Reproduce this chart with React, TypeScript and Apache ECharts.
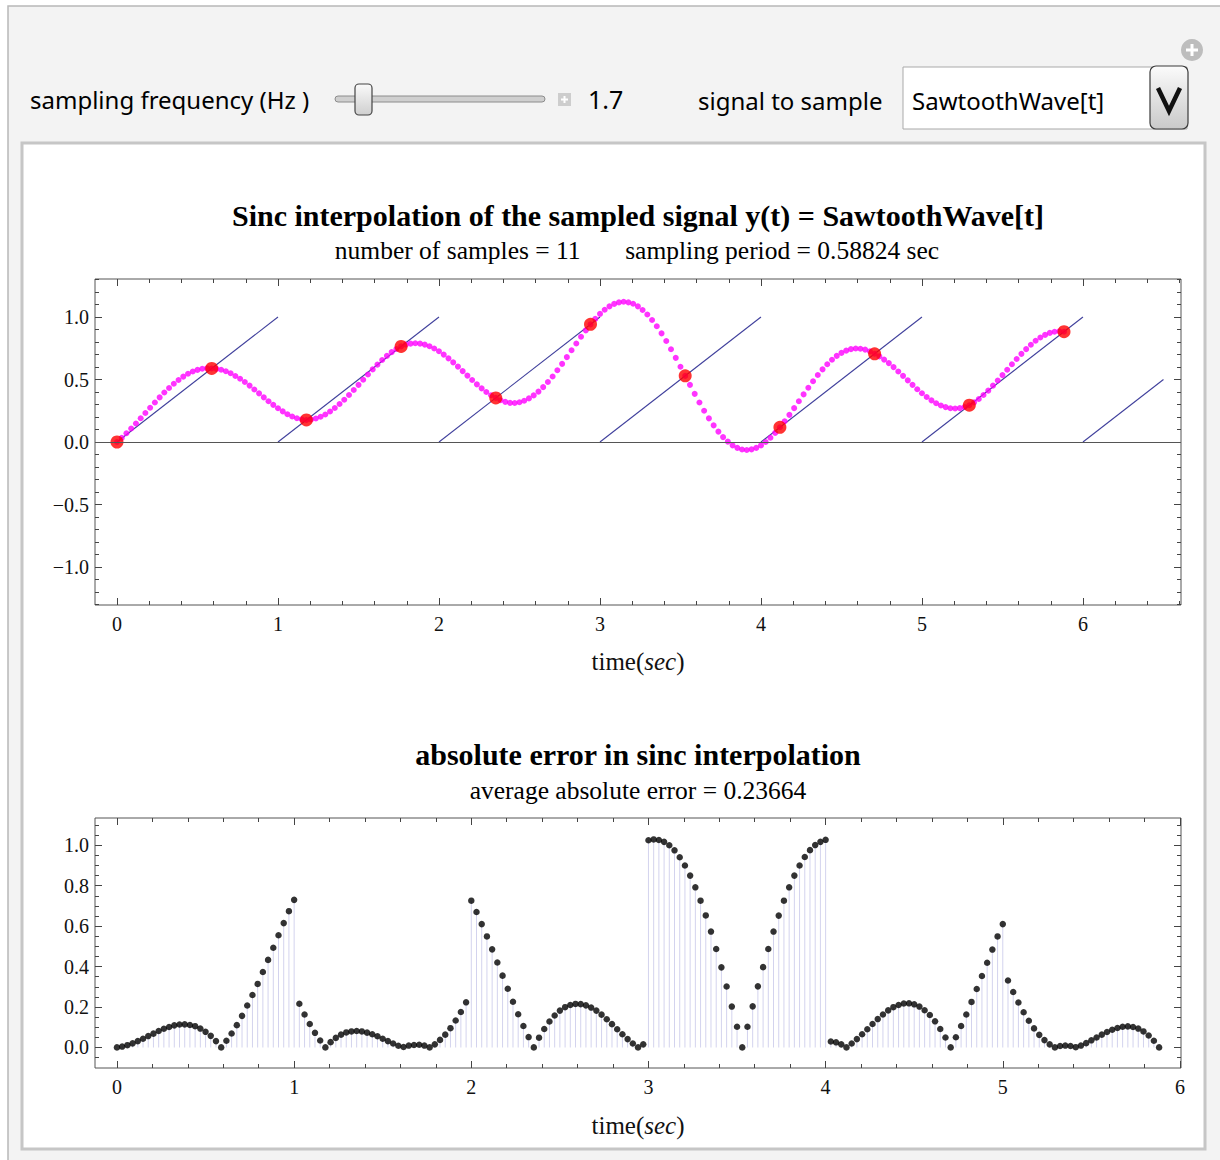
import React, { useEffect, useRef } from 'react';
import * as echarts from 'echarts';

// ---------------- data ----------------
const SAMPLE_PERIOD = 0.58824;
const DOTS_PER_PERIOD = 20;

const sampleTimes = [0, 0.58824, 1.17647, 1.76471, 2.35294, 2.94118, 3.52941, 4.11765, 4.70588, 5.29412, 5.88235];
const sampleValues = [0, 0.58824, 0.17647, 0.76471, 0.35294, 0.94118, 0.52941, 0.11765, 0.70588, 0.29412, 0.88235];

// sinc-interpolated signal, one value every SAMPLE_PERIOD / 20 seconds
const interpValues = [
  0, 0.033, 0.070, 0.108, 0.148, 0.190, 0.232, 0.274, 0.316, 0.357, 0.396, 0.432, 0.466, 0.496, 0.523, 0.546, 0.564, 0.577, 0.586, 0.590, 0.588,
  0.585, 0.578, 0.566, 0.550, 0.528, 0.506, 0.480, 0.451, 0.420, 0.389, 0.357, 0.326, 0.297, 0.270, 0.245, 0.222, 0.204, 0.190, 0.181, 0.176,
  0.180, 0.188, 0.202, 0.220, 0.244, 0.272, 0.304, 0.338, 0.376, 0.416, 0.457, 0.498, 0.540, 0.581, 0.619, 0.656, 0.689, 0.719, 0.744, 0.765,
  0.779, 0.787, 0.790, 0.787, 0.779, 0.766, 0.748, 0.726, 0.699, 0.669, 0.637, 0.603, 0.567, 0.531, 0.496, 0.461, 0.429, 0.400, 0.374, 0.353,
  0.334, 0.321, 0.313, 0.312, 0.318, 0.330, 0.349, 0.373, 0.403, 0.439, 0.480, 0.524, 0.574, 0.625, 0.679, 0.734, 0.788, 0.842, 0.893, 0.941,
  0.985, 1.025, 1.058, 1.085, 1.105, 1.117, 1.122, 1.117, 1.106, 1.085, 1.056, 1.020, 0.976, 0.926, 0.869, 0.808, 0.742, 0.673, 0.602, 0.529,
  0.457, 0.385, 0.316, 0.250, 0.189, 0.133, 0.083, 0.039, 0.003, -0.027, -0.047, -0.060, -0.064, -0.059, -0.047, -0.027, 0.000, 0.034, 0.073, 0.118,
  0.166, 0.217, 0.271, 0.326, 0.381, 0.434, 0.486, 0.536, 0.581, 0.622, 0.658, 0.689, 0.713, 0.731, 0.743, 0.748, 0.746, 0.739, 0.725, 0.706,
  0.685, 0.659, 0.631, 0.599, 0.564, 0.529, 0.493, 0.457, 0.422, 0.390, 0.360, 0.333, 0.310, 0.292, 0.279, 0.270, 0.268, 0.271, 0.280, 0.294,
  0.317, 0.344, 0.376, 0.411, 0.451, 0.492, 0.535, 0.578, 0.622, 0.664, 0.705, 0.743, 0.778, 0.810, 0.836, 0.857, 0.873, 0.882, 0.886, 0.882,
];

// absolute error of the interpolation at the same instants
const absErrors = [
  0, 0.004, 0.011, 0.020, 0.031, 0.043, 0.056, 0.068, 0.081, 0.092, 0.101, 0.109, 0.113, 0.114, 0.111, 0.105, 0.093, 0.077, 0.057, 0.031, 0,
  0.033, 0.069, 0.110, 0.156, 0.207, 0.259, 0.314, 0.373, 0.433, 0.493, 0.555, 0.615, 0.674, 0.730, 0.216, 0.163, 0.116, 0.072, 0.034, 0,
  0.026, 0.047, 0.063, 0.074, 0.079, 0.081, 0.079, 0.073, 0.065, 0.055, 0.043, 0.031, 0.019, 0.008, 0.002, 0.009, 0.012, 0.013, 0.009, 0,
  0.015, 0.037, 0.063, 0.095, 0.133, 0.175, 0.223, 0.726, 0.670, 0.610, 0.549, 0.485, 0.420, 0.355, 0.290, 0.226, 0.164, 0.106, 0.051, 0,
  0.048, 0.091, 0.128, 0.158, 0.182, 0.199, 0.210, 0.215, 0.214, 0.208, 0.197, 0.182, 0.162, 0.139, 0.115, 0.090, 0.065, 0.041, 0.019, 0,
  0.015, 1.025, 1.029, 1.026, 1.017, 1.000, 0.975, 0.941, 0.900, 0.850, 0.792, 0.726, 0.653, 0.573, 0.487, 0.396, 0.301, 0.202, 0.102, 0,
  0.102, 0.203, 0.302, 0.397, 0.487, 0.573, 0.652, 0.726, 0.792, 0.850, 0.900, 0.942, 0.976, 1.001, 1.017, 1.027, 0.029, 0.025, 0.015, 0,
  0.019, 0.041, 0.065, 0.090, 0.116, 0.140, 0.163, 0.183, 0.199, 0.210, 0.217, 0.218, 0.213, 0.202, 0.184, 0.160, 0.129, 0.091, 0.049, 0,
  0.050, 0.106, 0.163, 0.225, 0.289, 0.353, 0.419, 0.484, 0.549, 0.610, 0.331, 0.274, 0.222, 0.174, 0.132, 0.094, 0.062, 0.036, 0.015, 0,
  0.007, 0.009, 0.007, 0.001, 0.009, 0.021, 0.035, 0.049, 0.063, 0.076, 0.087, 0.096, 0.102, 0.104, 0.101, 0.093, 0.079, 0.059, 0.033, 0,
];

// the sampled signal itself: SawtoothWave teeth
const toothStartTimes = [0, 1, 2, 3, 4, 5, 6];
const toothEndTimes = [1, 2, 3, 4, 5, 6, 6.5];
const toothEndValues = [1, 1, 1, 1, 1, 1, 0.5];

// ticks
const topXMajor = [0, 1, 2, 3, 4, 5, 6];
const topXMinor = [0.2, 0.4, 0.6, 0.8, 1.2, 1.4, 1.6, 1.8, 2.2, 2.4, 2.6, 2.8, 3.2, 3.4, 3.6, 3.8, 4.2, 4.4, 4.6, 4.8, 5.2, 5.4, 5.6, 5.8, 6.2, 6.4, 6.6];
const topYMajor = [-1, -0.5, 0, 0.5, 1];
const topYMinor = [-1.3, -1.2, -1.1, -0.9, -0.8, -0.7, -0.6, -0.4, -0.3, -0.2, -0.1, 0.1, 0.2, 0.3, 0.4, 0.6, 0.7, 0.8, 0.9, 1.1, 1.2, 1.3];
const botXMajor = [0, 1, 2, 3, 4, 5, 6];
const botXMinor = [0.2, 0.4, 0.6, 0.8, 1.2, 1.4, 1.6, 1.8, 2.2, 2.4, 2.6, 2.8, 3.2, 3.4, 3.6, 3.8, 4.2, 4.4, 4.6, 4.8, 5.2, 5.4, 5.6, 5.8];
const botYMajor = [0, 0.2, 0.4, 0.6, 0.8, 1.0];
const botYMinor = [-0.05, 0.05, 0.1, 0.15, 0.25, 0.3, 0.35, 0.45, 0.5, 0.55, 0.65, 0.7, 0.75, 0.85, 0.9, 0.95, 1.05, 1.1];

const topXRange = [-0.1366, 6.609];
const topYRange = [-1.304, 1.304];
const botXRange = [-0.124, 6.006];
const botYRange = [-0.102, 1.135];

const TOP_TITLE = 'Sinc interpolation of the sampled signal y(t) = SawtoothWave[t]';
const TOP_SUBTITLE = 'number of samples = 11\u00a0\u00a0\u00a0\u00a0\u00a0\u00a0\u00a0sampling period = 0.58824 sec';
const BOT_TITLE = 'absolute error in sinc interpolation';
const BOT_SUBTITLE = 'average absolute error = 0.23664';

// ---------------- styling helpers ----------------
const SERIF = '"Liberation Serif", "Times New Roman", Times, serif';
const SANS = '"Noto Sans", "DejaVu Sans", sans-serif';
const TICK_COLOR = '#444';

const tick = (values: number[], length: number) => ({
  show: true,
  inside: true,
  length,
  customValues: values,
  lineStyle: { color: TICK_COLOR, width: 1 },
});

const fmtSigned = (v: number) => (v < 0 ? '\u2212' : '') + Math.abs(v).toFixed(1);

const noLine = { show: false, onZero: false };

function frameX(gridIndex: number, range: number[], majors: number[], minors: number[], nameGap: number) {
  const base = {
    type: 'value',
    gridIndex,
    min: range[0],
    max: range[1],
    splitLine: { show: false },
    axisLine: noLine,
  };
  return [
    {
      ...base,
      position: 'bottom',
      axisTick: tick(majors, 7),
      axisLabel: {
        show: true,
        customValues: majors,
        margin: 9,
        fontFamily: SERIF,
        fontSize: 20,
        color: '#111',
        formatter: (v: number) => String(v),
      },
      name: '{r|time(}{i|sec}{r|)}',
      nameLocation: 'middle',
      nameGap,
      nameTextStyle: {
        rich: {
          r: { fontFamily: SERIF, fontSize: 25, color: '#111' },
          i: { fontFamily: SERIF, fontSize: 25, fontStyle: 'italic', color: '#111' },
        },
      },
    },
    { ...base, position: 'bottom', axisTick: tick(minors, 4), axisLabel: { show: false } },
    { ...base, position: 'top', axisTick: tick(majors, 7), axisLabel: { show: false } },
    { ...base, position: 'top', axisTick: tick(minors, 4), axisLabel: { show: false } },
  ];
}

function frameY(gridIndex: number, range: number[], majors: number[], minors: number[]) {
  const base = {
    type: 'value',
    gridIndex,
    min: range[0],
    max: range[1],
    splitLine: { show: false },
    axisLine: noLine,
  };
  return [
    {
      ...base,
      position: 'left',
      axisTick: tick(majors, 7),
      axisLabel: {
        show: true,
        customValues: majors,
        margin: 6,
        fontFamily: SERIF,
        fontSize: 20,
        color: '#111',
        formatter: fmtSigned,
      },
    },
    { ...base, position: 'left', axisTick: tick(minors, 4), axisLabel: { show: false } },
    { ...base, position: 'right', axisTick: tick(majors, 7), axisLabel: { show: false } },
    { ...base, position: 'right', axisTick: tick(minors, 4), axisLabel: { show: false } },
  ];
}

function text(x: number, y: number, str: string, size: number, family: string, weight = 'normal', align = 'left') {
  return {
    type: 'text',
    z: 50,
    x,
    y,
    style: {
      text: str,
      fontSize: size,
      fontFamily: family,
      fontWeight: weight,
      fill: '#000',
      align,
      verticalAlign: 'middle',
    },
  };
}

export default function App() {
  const ref = useRef<HTMLDivElement>(null);

  useEffect(() => {
    if (!ref.current) return;
    const chart = echarts.init(ref.current, undefined, { renderer: 'svg' });

    const dotTimes = interpValues.map((_, i) => (i * SAMPLE_PERIOD) / DOTS_PER_PERIOD);
    const interpData = dotTimes.map((t, i) => [t, interpValues[i]]);
    const errorData = dotTimes.map((t, i) => [t, absErrors[i]]);
    const sampleData = sampleTimes.map((t, i) => [t, sampleValues[i]]);

    const toothSeries = toothStartTimes.map((s, i) => ({
      type: 'line',
      xAxisIndex: 0,
      yAxisIndex: 0,
      data: [
        [s, 0],
        [toothEndTimes[i], toothEndValues[i]],
      ],
      symbol: 'none',
      showSymbol: false,
      silent: true,
      z: 2,
      lineStyle: { color: '#40409c', width: 1.1 },
      ...(i === 0
        ? {
            markLine: {
              silent: true,
              symbol: ['none', 'none'],
              label: { show: false },
              lineStyle: { color: '#555', width: 1.2, type: 'solid' },
              data: [{ yAxis: 0 }],
            },
          }
        : {}),
    }));

    const graphics: any[] = [
      // manipulate background + frame
      { type: 'rect', z: -20, shape: { x: 8, y: 6, width: 1240, height: 1200 }, style: { fill: '#f3f3f3', stroke: '#b8b8b8', lineWidth: 1.5 } },
      // content panel
      { type: 'rect', z: -10, shape: { x: 22, y: 143, width: 1183, height: 1006 }, style: { fill: '#ffffff', stroke: '#c6c6c6', lineWidth: 3 } },
      // controls
      text(30, 99, 'sampling frequency (Hz )', 24, SANS),
      { type: 'rect', z: 40, shape: { x: 335, y: 96, width: 210, height: 6, r: 3 }, style: { fill: '#cfcfcf', stroke: '#8c8c8c', lineWidth: 1 } },
      {
        type: 'rect',
        z: 41,
        shape: { x: 355, y: 84, width: 17, height: 31, r: 4 },
        style: {
          fill: new echarts.graphic.LinearGradient(0, 0, 0, 1, [
            { offset: 0, color: '#fafafa' },
            { offset: 1, color: '#cfcfcf' },
          ]),
          stroke: '#454545',
          lineWidth: 1.2,
        },
      },
      { type: 'rect', z: 40, shape: { x: 558, y: 93, width: 13, height: 13 }, style: { fill: '#cdcdcd' } },
      { type: 'rect', z: 41, shape: { x: 561, y: 98.5, width: 7, height: 2 }, style: { fill: '#ffffff' } },
      { type: 'rect', z: 41, shape: { x: 563.5, y: 96, width: 2, height: 7 }, style: { fill: '#ffffff' } },
      text(588, 99, '1.7', 25, SANS),
      text(698, 100, 'signal to sample', 24, SANS),
      { type: 'rect', z: 40, shape: { x: 903, y: 67, width: 284, height: 62 }, style: { fill: '#ffffff', stroke: '#a9a9a9', lineWidth: 1 } },
      text(912, 100, 'SawtoothWave[t]', 24, SANS),
      {
        type: 'rect',
        z: 41,
        shape: { x: 1150, y: 66, width: 38, height: 63, r: 6 },
        style: {
          fill: new echarts.graphic.LinearGradient(0, 0, 0, 1, [
            { offset: 0, color: '#fbfbfb' },
            { offset: 1, color: '#c9c9c9' },
          ]),
          stroke: '#3a3a3a',
          lineWidth: 1.2,
        },
      },
      {
        type: 'polyline',
        z: 42,
        shape: { points: [[1158, 88], [1169, 111], [1180, 88]] },
        style: { stroke: '#111', lineWidth: 4.5, fill: 'none', lineJoin: 'miter' },
      },
      { type: 'circle', z: 40, shape: { cx: 1192, cy: 50, r: 11 }, style: { fill: '#bdbdbd' } },
      { type: 'rect', z: 41, shape: { x: 1186, y: 48.5, width: 12, height: 3 }, style: { fill: '#ffffff' } },
      { type: 'rect', z: 41, shape: { x: 1190.5, y: 44, width: 3, height: 12 }, style: { fill: '#ffffff' } },
      // titles
      text(638, 215, TOP_TITLE, 30, SERIF, 'bold', 'center'),
      text(637, 250, TOP_SUBTITLE, 25.5, SERIF, 'normal', 'center'),
      text(638, 754, BOT_TITLE, 30, SERIF, 'bold', 'center'),
      text(638, 790, BOT_SUBTITLE, 25.5, SERIF, 'normal', 'center'),
    ];

    chart.setOption({
      animation: false,
      backgroundColor: '#ffffff',
      graphic: { elements: graphics },
      grid: [
        { left: 95, top: 279, width: 1086, height: 326, show: true, borderColor: '#555', borderWidth: 1, backgroundColor: 'rgba(0,0,0,0)', containLabel: false },
        { left: 95, top: 818, width: 1086, height: 250, show: true, borderColor: '#555', borderWidth: 1, backgroundColor: 'rgba(0,0,0,0)', containLabel: false },
      ],
      xAxis: [...frameX(0, topXRange, topXMajor, topXMinor, 44), ...frameX(1, botXRange, botXMajor, botXMinor, 45)],
      yAxis: [...frameY(0, topYRange, topYMajor, topYMinor), ...frameY(1, botYRange, botYMajor, botYMinor)],
      series: [
        ...toothSeries,
        {
          type: 'scatter',
          xAxisIndex: 0,
          yAxisIndex: 0,
          data: interpData,
          symbolSize: 6,
          itemStyle: { color: '#ff00ff' },
          silent: true,
          z: 3,
        },
        {
          type: 'scatter',
          xAxisIndex: 0,
          yAxisIndex: 0,
          data: sampleData,
          symbolSize: 13,
          itemStyle: { color: '#ff0000' },
          silent: true,
          z: 4,
        },
        {
          type: 'bar',
          xAxisIndex: 4,
          yAxisIndex: 4,
          data: errorData,
          barWidth: 1,
          itemStyle: { color: '#d3d3ee' },
          silent: true,
          z: 2,
        },
        {
          type: 'scatter',
          xAxisIndex: 4,
          yAxisIndex: 4,
          data: errorData,
          symbolSize: 6.5,
          itemStyle: { color: '#000000' },
          silent: true,
          z: 3,
        },
      ],
    });

    return () => chart.dispose();
  }, []);

  return <div ref={ref} style={{ position: 'fixed', left: 0, top: 0, width: 1220, height: 1160 }} />;
}
